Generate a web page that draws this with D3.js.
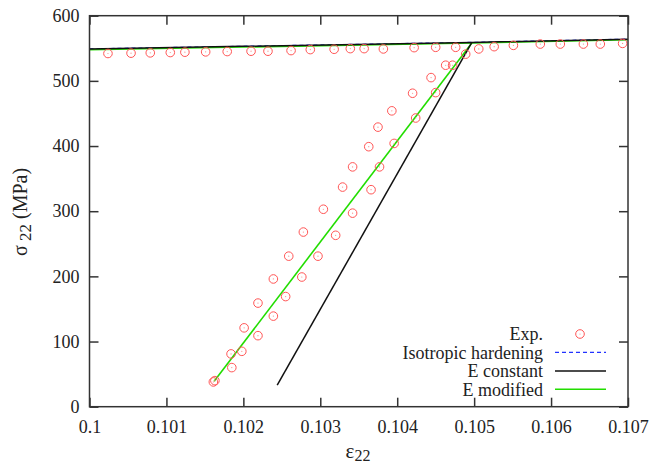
<!DOCTYPE html>
<html><head><meta charset="utf-8">
<script src="https://cdn.jsdelivr.net/npm/d3@7"></script>
<style>body{margin:0;background:#fff}svg{display:block}text{font-family:"Liberation Serif","Times New Roman",serif;fill:#222}</style>
</head><body><svg id="c" width="650" height="468"></svg>
<script>
// ---- data ----
const xTicks = [0.1,0.101,0.102,0.103,0.104,0.105,0.106,0.107];
const xTickLabels = ["0.1","0.101","0.102","0.103","0.104","0.105","0.106","0.107"];
const yTicks = [0,100,200,300,400,500,600];
const expStrain = [0.10024,0.10054,0.10079,0.10105,0.10124,0.10151,0.10179,0.10210,0.10232,0.10262,0.10287,0.10318,0.10339,0.10357,0.10382,0.10422,0.10450,0.10476,0.10506,0.10526,0.10551,0.10586,0.10612,0.10642,0.10664,0.10693,
  0.10161,0.10184,0.10201,0.10219,0.10239,0.10259,0.10278,0.10304,0.10329,0.10342,0.10363,0.10375,0.10393,0.10420,0.10444,0.10463,
  0.10163,0.10185,0.10198,0.10219,0.10239,0.10255,0.10276,0.10297,0.10320,0.10342,0.10366,0.10377,0.10396,0.10424,0.10450,0.10472,0.10489];
const expStress = [542,542.5,543,543.5,544,544.5,545,545.5,545.5,546.5,548,548.5,549.5,549.5,549,551,551.5,551.5,549,552.5,554.5,556.5,556.5,556.5,556.5,557.5,
  38,81,121,159,196,231,268,303,337,368,399,429,454,481,505,524,
  40,60,85,109,139,169,199,231,263,297,333,368,404,443,482,524,541];
const isoStrain = [0.1,0.10497,0.107];
const isoStress = [549,559,564];
const constStrainA = [0.1,0.10497,0.107];
const constStressA = [549,559,564];
const constStrainB = [0.10244,0.10497];
const constStressB = [33,559];
const modStrainA = [0.1,0.10497,0.107];
const modStressA = [547.8,558,563];
const modStrainB = [0.10162,0.10497];
const modStressB = [39,558];
const legendLabels = ["Exp.","Isotropic hardening","E constant","E modified"];

// ---- chart ----
const svg = d3.select("#c");
const L=89.5, R=628, T=15.7, B=406.7;
const x = d3.scaleLinear().domain([0.1,0.107]).range([L,R]);
const y = d3.scaleLinear().domain([0,600]).range([B,T]);
const axisColor="#333";

const pts = (xs,ys)=>xs.map((v,i)=>[v,ys[i]]);
const line = d3.line().x(d=>x(d[0])).y(d=>y(d[1]));

const g = svg.append("g");
// series lines
g.append("path").attr("d",line(pts(isoStrain,isoStress))).attr("fill","none").attr("stroke","#2233ff").attr("stroke-width",1.3).attr("stroke-dasharray","4,3");
g.append("path").attr("d",line(pts(modStrainA,modStressA))).attr("fill","none").attr("stroke","#22dd00").attr("stroke-width",1.6);
g.append("path").attr("d",line(pts(modStrainB,modStressB))).attr("fill","none").attr("stroke","#22dd00").attr("stroke-width",1.6);
g.append("path").attr("d",line(pts(constStrainA,constStressA))).attr("fill","none").attr("stroke","#111").attr("stroke-width",1.5);
g.append("path").attr("d",line(pts(constStrainB,constStressB))).attr("fill","none").attr("stroke","#111").attr("stroke-width",1.5);

// exp markers
const ex = g.append("g");
pts(expStrain,expStress).forEach(d=>{
  ex.append("circle").attr("cx",x(d[0])).attr("cy",y(d[1])).attr("r",4.3).attr("fill","none").attr("stroke","#f55").attr("stroke-width",1);
  ex.append("circle").attr("cx",x(d[0])).attr("cy",y(d[1])).attr("r",0.6).attr("fill","#f88");
});

// axes with inward ticks
const tl=9;
const xb = svg.append("g").attr("transform",`translate(0,${B})`).call(d3.axisBottom(x).tickValues(xTicks).tickSize(-tl).tickPadding(14).tickFormat((d,i)=>xTickLabels[i]));
const xt = svg.append("g").attr("transform",`translate(0,${T})`).call(d3.axisTop(x).tickValues(xTicks).tickSize(-tl).tickFormat(""));
const yl = svg.append("g").attr("transform",`translate(${L},0)`).call(d3.axisLeft(y).tickValues(yTicks).tickSize(-tl).tickPadding(10));
const yr = svg.append("g").attr("transform",`translate(${R},0)`).call(d3.axisRight(y).tickValues(yTicks).tickSize(-tl).tickFormat(""));
[xb,xt,yl,yr].forEach(a=>{
  a.selectAll("path.domain").remove();
  a.selectAll("line").attr("stroke",axisColor).attr("stroke-width",1.5);
  a.selectAll("text").attr("font-family",'"Liberation Serif",serif').attr("font-size",18).attr("fill","#222");
});
svg.append("rect").attr("x",L).attr("y",T).attr("width",R-L).attr("height",B-T).attr("fill","none").attr("stroke",axisColor).attr("stroke-width",1.5);

// axis titles
const xt2 = svg.append("text").attr("x",358).attr("y",458).attr("text-anchor","middle").attr("font-size",21);
xt2.append("tspan").text("ε");
xt2.append("tspan").attr("font-size",16).attr("dy",3).text("22");
const yt = svg.append("text").attr("transform","translate(27,212) rotate(-90)").attr("text-anchor","middle").attr("font-size",20);
yt.append("tspan").text("σ");
yt.append("tspan").attr("font-size",17).attr("dy",4).text(" 22");
yt.append("tspan").attr("dy",-4).text(" (MPa)");

// legend
const lg = svg.append("g");
const rows=[334,352.3,371,389.3];
legendLabels.forEach((t,i)=>{
  lg.append("text").attr("x",543).attr("y",rows[i]).attr("dy","0.35em").attr("text-anchor","end").attr("font-size",18).text(t);
});
lg.append("circle").attr("cx",580).attr("cy",rows[0]).attr("r",4.3).attr("fill","none").attr("stroke","#f55");
lg.append("circle").attr("cx",580).attr("cy",rows[0]).attr("r",0.6).attr("fill","#f88");
lg.append("line").attr("x1",555).attr("x2",606).attr("y1",rows[1]).attr("y2",rows[1]).attr("stroke","#2233ff").attr("stroke-width",1.3).attr("stroke-dasharray","4,3");
lg.append("line").attr("x1",555).attr("x2",606).attr("y1",rows[2]).attr("y2",rows[2]).attr("stroke","#111").attr("stroke-width",1.5);
lg.append("line").attr("x1",555).attr("x2",606).attr("y1",rows[3]).attr("y2",rows[3]).attr("stroke","#22dd00").attr("stroke-width",1.6);
</script></body></html>
